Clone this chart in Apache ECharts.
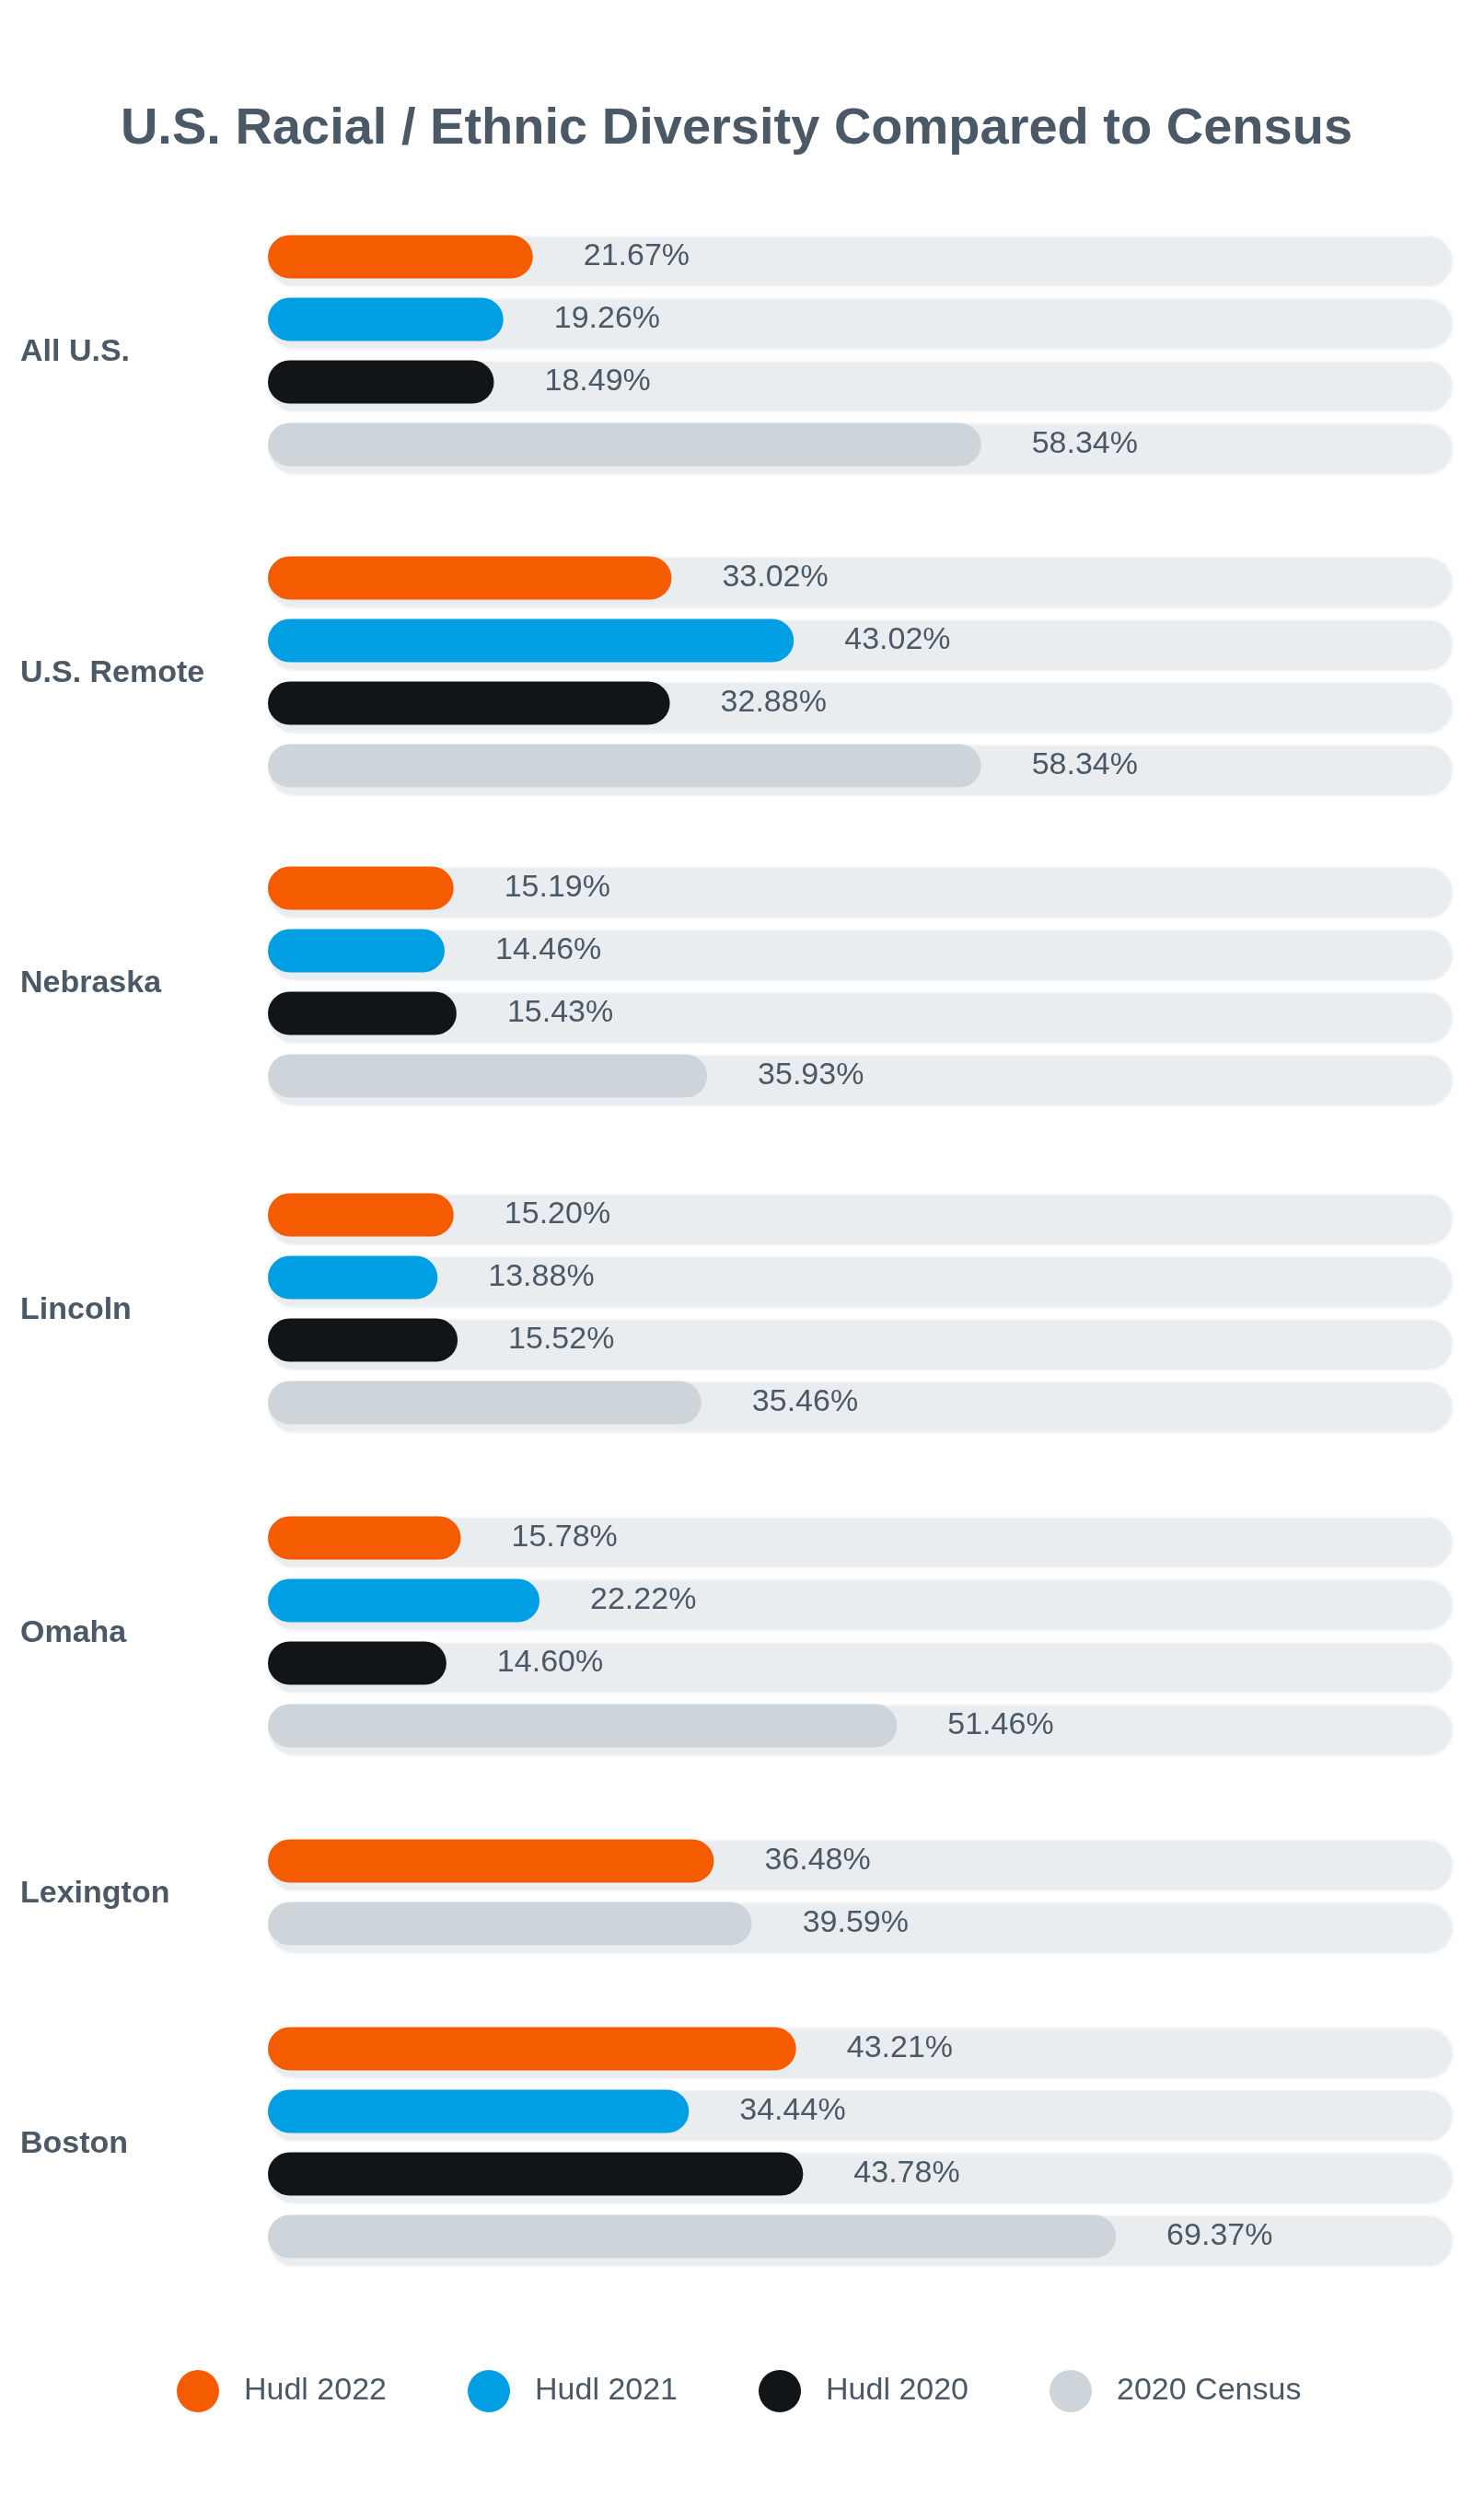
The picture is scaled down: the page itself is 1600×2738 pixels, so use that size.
<!DOCTYPE html>
<html>
<head>
<meta charset="utf-8">
<script src="https://cdn.jsdelivr.net/npm/echarts@6/dist/echarts.min.js"></script>
<style>
  html, body { margin: 0; padding: 0; background: #fff; }
  #main { width: 1600px; height: 2738px; }
</style>
</head>
<body>
<div id="main"></div>
<script>
// data
var groups = ['All U.S.', 'U.S. Remote', 'Nebraska', 'Lincoln', 'Omaha', 'Lexington', 'Boston'];
var seriesNames = ['Hudl 2022', 'Hudl 2021', 'Hudl 2020', '2020 Census'];
var hudl2022 = [21.67, 33.02, 15.19, 15.20, 15.78, 36.48, 43.21];
var hudl2021 = [19.26, 43.02, 14.46, 13.88, 22.22, null, 34.44];
var hudl2020 = [18.49, 32.88, 15.43, 15.52, 14.60, null, 43.78];
var census2020 = [58.34, 58.34, 35.93, 35.46, 51.46, 39.59, 69.37];

var colors = ['#f55b00', '#009ee3', '#121518', '#cdd5db'];
var gridTops = [245, 594, 931, 1286, 1637, 1988, 2192];
var ROW = 68;
var MAX = 97;
var textColor = '#4b5866';

var myChart = echarts.init(document.getElementById('main'));
var allValues = [hudl2022, hudl2021, hudl2020, census2020];

var grid = [], xAxis = [], yAxis = [], series = [], titles = [];
titles.push({
  text: 'U.S. Racial / Ethnic Diversity Compared to Census',
  left: 'center', top: 108,
  textStyle: { fontFamily: 'Liberation Sans', fontSize: 56, fontWeight: 'bold', color: '#4b5866' }
});

for (var g = 0; g < groups.length; g++) {
  // rows present in this group
  var rows = [];
  for (var s = 0; s < 4; s++) {
    if (allValues[s][g] != null) rows.push(s);
  }
  var h = rows.length * ROW;
  grid.push({ left: 291, right: 21, top: gridTops[g], height: h });
  xAxis.push({ gridIndex: g, type: 'value', min: 0, max: MAX, show: false });
  yAxis.push({
    gridIndex: g, type: 'category', inverse: true, show: false,
    data: rows.map(function (r) { return seriesNames[r]; })
  });
  titles.push({
    text: groups[g], left: 17, top: gridTops[g] + h / 2 - 20,
    textStyle: { fontFamily: 'Liberation Sans', fontSize: 34, fontWeight: 'bold', color: textColor }
  });
  // track
  series.push({
    type: 'bar', xAxisIndex: g, yAxisIndex: g, silent: true, barWidth: 57, barGap: '-100%', z: 1,
    data: rows.map(function () { return MAX; }),
    itemStyle: { color: '#e9edf0', borderColor: '#f4f6f8', borderWidth: 2, borderRadius: 29 }
  });
  for (var k = 0; k < 4; k++) {
    series.push({
      name: seriesNames[k], type: 'bar', xAxisIndex: g, yAxisIndex: g,
      barWidth: 47, barGap: '-100%', z: 3,
      data: rows.map(function (r) { return r === k ? allValues[k][g] : null; }),
      itemStyle: { color: colors[k], borderRadius: 24 },
      label: {
        show: true, position: 'right', distance: 55,
        fontFamily: 'Liberation Sans', fontSize: 34, color: textColor,
        formatter: function (p) { return p.value.toFixed(2) + '%'; }
      }
    });
  }
}

var option = {
  animation: false,
  backgroundColor: '#fff',
  title: titles,
  color: colors,
  legend: {
    data: seriesNames, bottom: 112, left: 187,
    icon: 'circle', itemWidth: 46, itemHeight: 46, itemGap: 88,
    textStyle: { fontFamily: 'Liberation Sans', fontSize: 34, color: textColor, padding: [0, 0, 0, 22] }
  },
  grid: grid, xAxis: xAxis, yAxis: yAxis, series: series
};
myChart.setOption(option);
</script>
</body>
</html>
